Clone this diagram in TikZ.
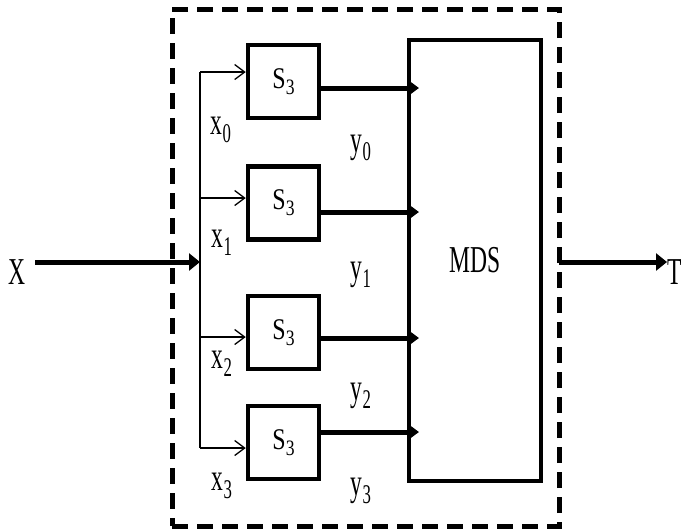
\documentclass[tikz,border=0pt]{standalone}
\usepackage{fontspec}
\setmainfont{Liberation Serif}
\usetikzlibrary{arrows.meta, positioning}

% squeezed text, as in the scanned figure
\newcommand{\narrowtext}[1]{\scalebox{0.62}[1]{#1}}
% large, low subscript
\newcommand{\lowsub}[1]{\raisebox{-0.22em}{\fontsize{27}{28}\selectfont #1}}

\tikzset{
  sbox/.style={draw, line width=4.5pt, minimum width=71pt, minimum height=73pt,
               inner sep=0pt, font=\fontsize{30}{32}\selectfont},
  bigtext/.style={inner sep=0pt, font=\fontsize{38}{40}\selectfont},
  thinarr/.style={line width=1.3pt, -{Straight Barb[length=10pt,width=15pt]}},
  thickarr/.style={line width=5pt, -{Triangle[length=10pt,width=14pt]}},
}

\begin{document}
\begin{tikzpicture}[x=1pt, y=-1pt]
  \useasboundingbox (0,0) rectangle (682,531);

  % dashed outline
  \node[draw, line width=5pt, dash pattern=on 16pt off 9pt,
        minimum width=387pt, minimum height=517pt] (frame) at (365.5,267.5) {};

  % S-boxes
  \foreach \i/\y in {0/81.5, 1/203, 2/332.5, 3/442.5}
    \node[sbox] (s\i) at (283.5,\y)
      {\scalebox{0.8}[1]{S\raisebox{-0.2em}{\fontsize{22}{24}\selectfont 3}}};

  % MDS block
  \node[draw, line width=4.5pt, minimum width=132pt, minimum height=441pt,
        bigtext] (mds) at (475,260.5) {\narrowtext{MDS}};

  % input X and branching
  \node[bigtext] (X) at (17,272) {\narrowtext{X}};
  \coordinate (xin) at (35,262);
  \coordinate (split) at (200,262);
  \draw[thickarr, -{Triangle[length=11pt,width=17pt]}] (xin) -- (split);

  \foreach \i/\y in {0/72, 1/198, 2/337, 3/448}
    \coordinate (b\i) at (200,\y);
  \draw[line width=1.3pt] (b0) -- (b3);
  \foreach \i in {0,...,3}
    \draw[thinarr] (b\i) -- (s\i.west |- b\i);

  % x labels
  \foreach \i/\x/\y in {0/221/130, 1/222/243, 2/222/364, 3/222/486}
    \node[bigtext] (xl\i) at (\x,\y) {\narrowtext{x\lowsub{\i}}};

  % S-box outputs into MDS
  \foreach \i/\y in {0/88, 1/212, 2/338, 3/432} {
    \coordinate (y\i) at (419,\y);
    \draw[thickarr] (s\i.east |- y\i) -- (y\i);
  }

  % y labels
  \foreach \i/\y in {0/148, 1/275, 2/396, 3/491}
    \node[bigtext] (yl\i) at (361,\y) {\narrowtext{y\lowsub{\i}}};

  % output T
  \node[bigtext, anchor=west] (T) at (667,272) {\narrowtext{T}};
  \coordinate (out) at (559,262);
  \draw[thickarr, -{Triangle[length=11pt,width=17pt]}] (out) -- (T.west |- out);
\end{tikzpicture}
\end{document}
